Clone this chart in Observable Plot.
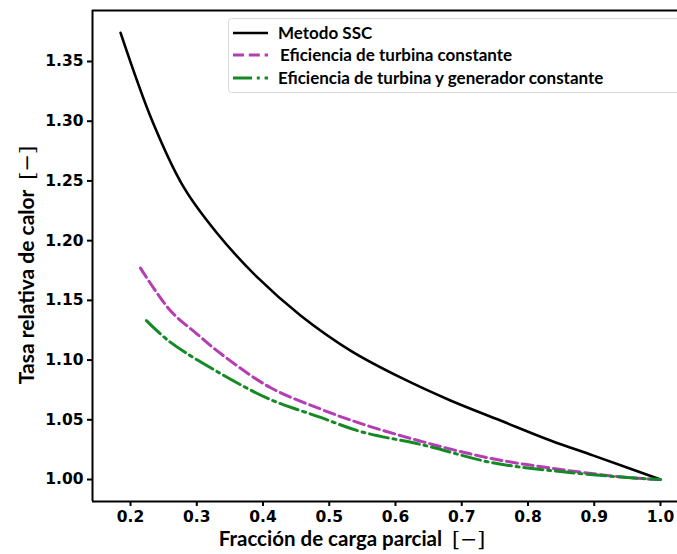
<!DOCTYPE html>
<html>
<head>
<meta charset="utf-8">
<script src="https://cdn.jsdelivr.net/npm/d3@7"></script>
<script src="https://cdn.jsdelivr.net/npm/@observablehq/plot@0.6"></script>
<style>
  html, body { margin: 0; padding: 0; background: #fff; overflow: hidden; }
  #chart { position: relative; width: 677px; height: 554px; }
</style>
</head>
<body>
<div id="chart"></div>
<script>
// ---- data ----
const sscX = [0.185, 0.233, 0.280, 0.331, 0.392, 0.4566, 0.532, 0.6075, 0.683, 0.7585, 0.834, 0.899, 1.0];
const sscY = [1.374, 1.300, 1.245, 1.206, 1.169, 1.1374, 1.108, 1.0855, 1.0662, 1.0494, 1.0327, 1.0200, 1.000];

const turbX = [0.215, 0.260, 0.300, 0.336, 0.411, 0.487, 0.547, 0.645, 0.745, 0.849, 0.950, 1.0];
const turbY = [1.177, 1.1415, 1.122, 1.1055, 1.077, 1.059, 1.047, 1.031, 1.0176, 1.0084, 1.0017, 1.000];

const genX = [0.224, 0.260, 0.336, 0.411, 0.487, 0.547, 0.645, 0.745, 0.849, 0.950, 1.0];
const genY = [1.133, 1.115, 1.0887, 1.067, 1.052, 1.0402, 1.0285, 1.0142, 1.0067, 1.0017, 1.000];

const seriesNames = ["Metodo SSC", "Eficiencia de turbina constante", "Eficiencia de turbina y generador constante"];
const xTicks = [0.2, 0.3, 0.4, 0.5, 0.6, 0.7, 0.8, 0.9, 1.0];
const yTicks = [1.00, 1.05, 1.10, 1.15, 1.20, 1.25, 1.30, 1.35];
const xLabel = "Fracción de carga parcial";
const yLabel = "Tasa relativa de calor";
const unitLabel = "[−]";

const xDomain = [0.1426, 1.0257];
const yDomain = [0.9816, 1.3927];

const toRows = (xs, ys) => xs.map((x, i) => ({x, y: ys[i]}));
const ssc = toRows(sscX, sscY);
const turb = toRows(turbX, turbY);
const gen = toRows(genX, genY);

const colors = ["#000000", "#b43cb4", "#138a24"];
const dashes = [null, "11 4.8", "19 4.8 3 4.8"];
const widths = [2.6, 3, 3];

const tickFont = {fontFamily: "DejaVu Sans", fontSize: 15.5, fontWeight: "bold"};

const plot = Plot.plot({
  width: 677,
  height: 554,
  marginLeft: 92,
  marginTop: 10,
  marginBottom: 53,
  marginRight: 0,
  style: {fontFamily: "DejaVu Sans", fontSize: "15.5px", fontWeight: "bold", color: "#000", background: "#fff"},
  x: {domain: xDomain, ticks: xTicks, tickFormat: d3.format(".1f")},
  y: {domain: yDomain, ticks: yTicks, tickFormat: d3.format(".2f")},
  marks: [
    Plot.axisX({ticks: xTicks, tickFormat: d3.format(".1f"), tickSize: 5, tickPadding: 4, strokeWidth: 2, label: null, ...tickFont}),
    Plot.axisY({ticks: yTicks, tickFormat: d3.format(".2f"), tickSize: 5, tickPadding: 4, strokeWidth: 2, label: null, ...tickFont}),
    Plot.ruleX([xDomain[0]], {stroke: "#000", strokeWidth: 2}),
    Plot.ruleY([yDomain[0], yDomain[1]], {stroke: "#000", strokeWidth: 2}),
    Plot.line(ssc, {x: "x", y: "y", stroke: colors[0], strokeWidth: widths[0], curve: "catmull-rom"}),
    Plot.line(turb, {x: "x", y: "y", stroke: colors[1], strokeWidth: widths[1], strokeDasharray: dashes[1], curve: "catmull-rom"}),
    Plot.line(gen, {x: "x", y: "y", stroke: colors[2], strokeWidth: widths[2], strokeDasharray: dashes[2], curve: "catmull-rom"})
  ]
});

document.getElementById("chart").appendChild(plot);

const svg = d3.select(plot);
svg.selectAll('[aria-label$="tick label"] text')
  .style("font-family", "'DejaVu Sans', sans-serif").style("font-size", "15.5px").style("font-weight", "700");

// ---- axis labels & legend (layout) ----
const labelFont = "Lato, 'Open Sans', sans-serif";

const xl = svg.append("text")
  .attr("x", 352).attr("y", 546)
  .attr("text-anchor", "middle")
  .style("font-family", labelFont).style("font-size", "20.5px").style("font-weight", "bold").attr("fill", "#000");
xl.append("tspan").text(xLabel + "  ");
xl.append("tspan").style("font-family", "'DejaVu Serif', serif").style("font-weight", "normal").text(unitLabel);

const yl = svg.append("text")
  .attr("transform", "translate(34,265) rotate(-90)")
  .attr("text-anchor", "middle")
  .style("font-family", labelFont).style("font-size", "21px").style("font-weight", "bold").attr("fill", "#000");
yl.append("tspan").text(yLabel + "  ");
yl.append("tspan").style("font-family", "'DejaVu Serif', serif").style("font-weight", "normal").text(unitLabel);

const lg = svg.append("g").attr("text-anchor", "start");
lg.append("rect")
  .attr("x", 228.5).attr("y", 18.5).attr("width", 480).attr("height", 74).attr("rx", 3)
  .attr("fill", "#fff").attr("stroke", "#d9d9d9").attr("stroke-width", 1);
const rowY = [33, 55, 78];
const textX = [278, 280, 278];
seriesNames.forEach((name, i) => {
  lg.append("line")
    .attr("x1", 233).attr("x2", 268).attr("y1", rowY[i]).attr("y2", rowY[i])
    .attr("stroke", colors[i]).attr("stroke-width", widths[i])
    .attr("stroke-dasharray", dashes[i]);
  lg.append("text")
    .attr("x", textX[i]).attr("y", rowY[i] + 6)
    .attr("text-anchor", "start")
    .style("font-family", labelFont).style("font-size", "17px").style("font-weight", "bold")
    .attr("fill", "#000").text(name);
});
</script>
</body>
</html>
